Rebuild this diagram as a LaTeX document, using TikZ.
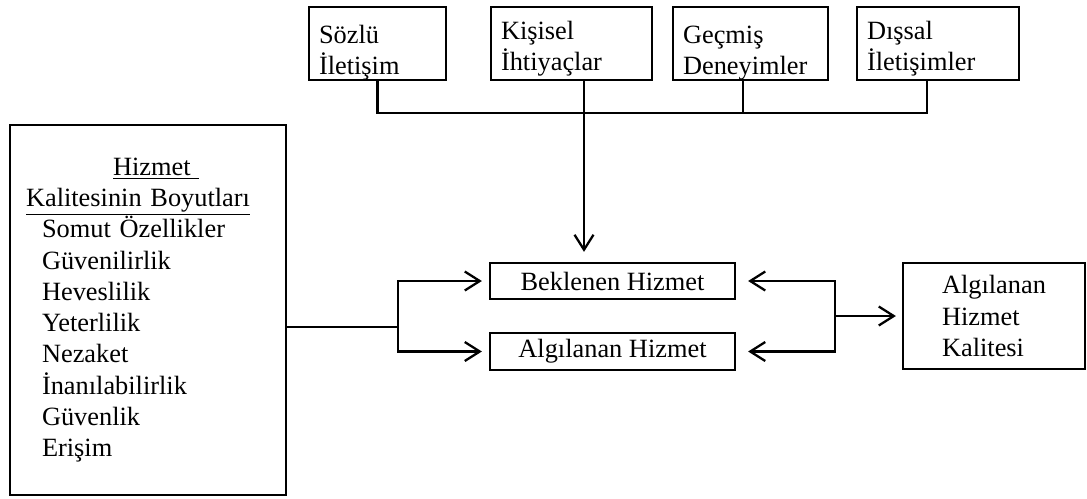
\documentclass[tikz,border=0pt]{standalone}
\usepackage{fontspec}
\setmainfont{Liberation Serif}
\usetikzlibrary{arrows.meta}

\tikzset{
  kutu/.style={draw, line width=1.3pt, inner xsep=0.2cm, inner ysep=0pt, align=left,
    font=\fontsize{15}{17.8}\selectfont},
  ustkutu/.style={kutu, text height=0.72cm, text depth=0.74cm},
  hat/.style={line width=1.3pt},
  ok/.style={-{Straight Barb[length=0.3cm, width=0.38cm, line width=1.3pt]}},
}

\begin{document}
\begin{tikzpicture}[x=0.02cm, y=-0.02cm]
    % \draw[help lines] (0,0) grid (1087,498);
    \useasboundingbox (0,0) rectangle (1087,498);

    \node[ustkutu, text width=2.34cm] (sozlu)   at (377.5,43.5) {Sözlü\\İletişim};
    \node[ustkutu, text width=2.82cm, text height=0.65cm, text depth=0.81cm] (kisisel) at (571.5,43.5) {Kişisel\\İhtiyaçlar};
    \node[ustkutu, text width=2.70cm] (gecmis)  at (750.5,43.5) {Geçmiş\\Deneyimler};
    \node[ustkutu, text width=2.84cm, text height=0.65cm, text depth=0.81cm] (dissal)  at (938,43.5)   {Dışsal\\İletişimler};

    \node[kutu, inner xsep=0.32cm, text width=4.88cm, minimum height=7.4cm] (boyut) at (148,310) {%
        \hspace*{1.74cm}\underline{Hizmet\ }\\
        \underline{Kalitesinin Boyutları}\\
        \hspace*{0.32cm}Somut Özellikler\\
        \hspace*{0.32cm}Güvenilirlik\\
        \hspace*{0.32cm}Heveslilik\\
        \hspace*{0.32cm}Yeterlilik\\
        \hspace*{0.32cm}Nezaket\\
        \hspace*{0.32cm}İnanılabilirlik\\
        \hspace*{0.32cm}Güvenlik\\
        \hspace*{0.32cm}Erişim};

    \node[kutu, align=center, minimum width=4.9cm, minimum height=0.72cm] (beklenen)  at (612.5,281)   {Beklenen Hizmet};
    \node[kutu, align=center, minimum width=4.9cm, minimum height=0.74cm] (algilanan) at (612.5,351.5) {Algılanan Hizmet};
    \node[kutu, minimum width=3.64cm, minimum height=2.12cm] (kalite) at (994,316) {Algılanan\\Hizmet\\Kalitesi};

    % ust kutulardan gelen hat
    \coordinate (bag) at (584,113);
    \coordinate (g1)  at (743,113);
    \coordinate (d1)  at (927,113);
    \draw[hat] (sozlu.south) |- (d1) -- (d1 |- dissal.south);
    \draw[hat] (kisisel.south -| bag) -- (bag);
    \draw[hat] (gecmis.south -| g1) -- (g1);
    \draw[hat, ok, shorten >=0.2cm] (bag) -- (bag |- beklenen.north);

    % boyutlar
    \coordinate (sol) at (398,327);
    \draw[hat] (boyut.east |- sol) -- (sol);
    \draw[hat, ok, shorten >=0.14cm] (sol) |- (beklenen.west);
    \draw[hat, ok, shorten >=0.14cm] (sol) |- (algilanan.west);

    % kalite
    \coordinate (sag) at (835,316);
    \draw[hat, ok, shorten >=0.12cm] (sag) -- (sag -| kalite.west);
    \draw[hat, ok, shorten >=0.24cm] (sag) |- (beklenen.east);
    \draw[hat, ok, shorten >=0.24cm] (sag) |- (algilanan.east);

\end{tikzpicture}
\end{document}
